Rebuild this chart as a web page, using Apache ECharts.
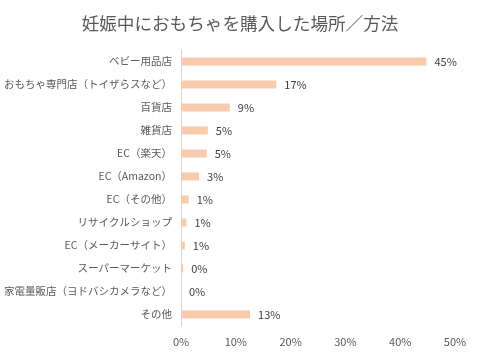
<!DOCTYPE html>
<html><head><meta charset="utf-8">
<script src="https://cdn.jsdelivr.net/npm/echarts@6/dist/echarts.min.js"></script>
<style>html,body{margin:0;padding:0;background:#fff}#c{width:480px;height:356px}</style>
</head><body><div id="c"></div>
<script>
const titleText = '妊娠中におもちゃを購入した場所／方法';
const categories = ['ベビー用品店','おもちゃ専門店（トイザらスなど）','百貨店','雑貨店','EC（楽天）','EC（Amazon）','EC（その他）','リサイクルショップ','EC（メーカーサイト）','スーパーマーケット','家電量販店（ヨドバシカメラなど）','その他'];
const values = [44.8, 17.4, 8.9, 4.9, 4.7, 3.3, 1.4, 1.0, 0.7, 0.4, 0, 12.6];
const xTicks = [0, 10, 20, 30, 40, 50];

const font = '"Noto Sans CJK JP", "Noto Sans", sans-serif';
const chart = echarts.init(document.getElementById('c'), null, {renderer:'canvas'});
chart.setOption({
  animation: false,
  title: {text: titleText, left: 'center', top: 10, textStyle: {fontFamily: font, fontSize: 17.6, fontWeight: 'normal', color: '#595959'}},
  grid: {left: 181, right: 25, top: 50, bottom: 30, containLabel: false, outerBoundsMode: 'none'},
  xAxis: {type: 'value', min: xTicks[0], max: xTicks[xTicks.length-1], interval: 10,
    axisLine: {show: false}, axisTick: {show: false}, splitLine: {show: false},
    axisLabel: {formatter: v => v + '%', fontFamily: font, fontSize: 11, color: '#595959', margin: 10}},
  yAxis: {type: 'category', data: categories, inverse: true,
    axisLine: {show: true, lineStyle: {color: '#d9d9d9', width: 1}}, axisTick: {show: false},
    axisLabel: {fontFamily: font, fontSize: 10.5, color: '#595959', margin: 9}},
  series: [{type: 'bar', data: values, barWidth: 8, itemStyle: {color: '#f8cbad'},
    label: {show: true, position: 'right', distance: 8, fontFamily: font, fontSize: 11, color: '#404040',
      formatter: p => Math.round(p.value) + '%'}}]
});
</script></body></html>
